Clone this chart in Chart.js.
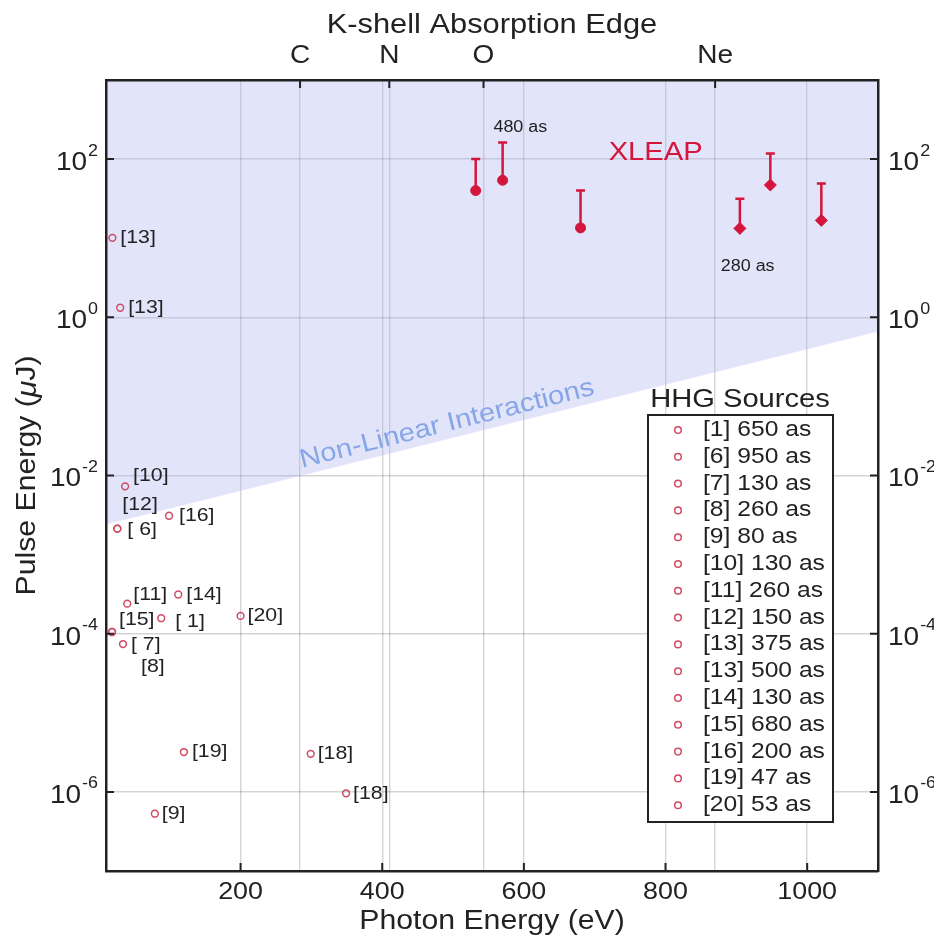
<!DOCTYPE html>
<html>
<head>
<meta charset="utf-8">
<script src="https://cdn.jsdelivr.net/npm/chart.js@4.4.1/dist/chart.umd.min.js"></script>
<style>
  html, body { margin: 0; padding: 0; background: #fff; }
  #wrap { width: 934px; height: 941px; }
</style>
</head>
<body>
<div id="wrap"><canvas id="chart" width="934" height="941"></canvas></div>
<script>
// axis ranges and ticks
const xRange = [10, 1100];
const yRange = [1e-7, 1e3];
const xTicks = [200, 400, 600, 800, 1000];
const yTickExp = [2, 0, -2, -4, -6];

// K-shell absorption edges (top axis)
const edgeNames = ['C', 'N', 'O', 'Ne'];
const edgeEnergy = [284, 410, 543, 870];

// HHG sources (open circles)
const hhgRefs = ['[13]', '[13]', '[10]', '[12]', '[ 6]', '[16]', '[11]', '[14]', '[15]', '[ 1]', '[20]', '[ 7]', '[8]', '[19]', '[18]', '[18]', '[9]'];
const hhgEnergy = [19, 30, 37, 26, 26, 99, 40, 112, 18.5, 88, 200, 34, 18.5, 120, 299, 349, 79];
const hhgPulse = [10.1, 1.32, 7.3e-3, 2.13e-3, 2.13e-3, 3.1e-3, 2.4e-4, 3.13e-4, 1.05e-4, 1.57e-4, 1.68e-4, 7.4e-5, 1.05e-4, 3.19e-6, 3.03e-6, 9.6e-7, 5.3e-7];

// legend entries
const hhgLegend = ['[1] 650 as', '[6] 950 as', '[7] 130 as', '[8] 260 as', '[9] 80 as', '[10] 130 as', '[11] 260 as', '[12] 150 as', '[13] 375 as', '[13] 500 as', '[14] 130 as', '[15] 680 as', '[16] 200 as', '[19] 47 as', '[20] 53 as'];

// XLEAP (filled markers with upper error bars)
const xleapEnergy = [532, 570, 680, 905, 948, 1020];
const xleapPulse = [40, 54, 13.5, 13.3, 47, 16.8];
const xleapPulseMax = [100, 162, 40, 31.6, 118, 49];

// non-linear interaction boundary
const nonlinEnergy = [10, 1100];
const nonlinPulse = [2.4e-3, 0.66];

// annotations
const noteText = ['XLEAP', '480 as', '280 as'];
const noteEnergy = [786, 557, 878];
const notePulse = [121, 248, 4.4];

// ---- layout / style ----
const FONT = '"Liberation Sans", Arial, Helvetica, sans-serif';
const SX = 1.12;
const INK = '#222';
const RED = '#d4163c';
const HHG_RED = '#cf4a62';
const gridColor = 'rgba(0,0,0,0.17)';
const xleapShape = ['circle', 'circle', 'circle', 'rectRot', 'rectRot', 'rectRot'];
const xleapSize = [5, 5, 5, 6, 6, 6];
const labelOffsets = [[8, 0], [8, 0], [8, -11], [5, -24], [10, 1], [10, 0], [6, -9], [8, 0], [7, -12], [14, 4], [7, 0], [8, 1], [29, 35], [8, 0], [7, 0], [7, 0], [7, 0]];
const noteStyle = [{ size: 26, color: RED, align: 'center' }, { size: 16, color: INK, align: 'left' }, { size: 16, color: INK, align: 'left' }];

function txt(ctx, s, x, y, size, align, color, italic) {
  ctx.save();
  ctx.font = (italic ? 'italic ' : '') + size + 'px ' + FONT;
  ctx.fillStyle = color || INK;
  ctx.textBaseline = 'middle';
  ctx.textAlign = 'left';
  const w = ctx.measureText(s).width * SX;
  const x0 = align === 'center' ? x - w / 2 : align === 'right' ? x - w : x;
  ctx.translate(x0, y);
  ctx.scale(SX, 1);
  ctx.fillText(s, 0, 0);
  ctx.restore();
  return w;
}

function measure(ctx, s, size, italic) {
  ctx.save();
  ctx.font = (italic ? 'italic ' : '') + size + 'px ' + FONT;
  const w = ctx.measureText(s).width * SX;
  ctx.restore();
  return w;
}

const decor = {
  id: 'decor',
  beforeDraw(chart) {
    const ctx = chart.ctx;
    ctx.save();
    ctx.fillStyle = '#fff';
    ctx.fillRect(0, 0, chart.width, chart.height);
    ctx.restore();
  },
  afterDatasetsDraw(chart) {
    const ctx = chart.ctx;
    const a = chart.chartArea;
    const sx = chart.scales.x, sy = chart.scales.y;

    // XLEAP error bars
    ctx.save();
    ctx.strokeStyle = RED;
    ctx.lineWidth = 2.5;
    xleapEnergy.forEach((e, i) => {
      const px = sx.getPixelForValue(e);
      const p0 = sy.getPixelForValue(xleapPulse[i]);
      const p1 = sy.getPixelForValue(xleapPulseMax[i]);
      ctx.beginPath();
      ctx.moveTo(px, p0);
      ctx.lineTo(px, p1);
      ctx.moveTo(px - 4.5, p1);
      ctx.lineTo(px + 4.5, p1);
      ctx.stroke();
    });
    ctx.restore();

    // inward tick marks
    ctx.save();
    ctx.strokeStyle = INK;
    ctx.lineWidth = 2;
    ctx.beginPath();
    xTicks.forEach(v => {
      const px = sx.getPixelForValue(v);
      ctx.moveTo(px, a.bottom); ctx.lineTo(px, a.bottom - 8);
    });
    edgeEnergy.forEach(v => {
      const px = sx.getPixelForValue(v);
      ctx.moveTo(px, a.top); ctx.lineTo(px, a.top + 8);
    });
    yTickExp.forEach(e => {
      const py = sy.getPixelForValue(Math.pow(10, e));
      ctx.moveTo(a.left, py); ctx.lineTo(a.left + 8, py);
      ctx.moveTo(a.right, py); ctx.lineTo(a.right - 8, py);
    });
    ctx.stroke();
    ctx.restore();

    // tick labels
    xTicks.forEach(v => txt(ctx, String(v), sx.getPixelForValue(v), 892, 24, 'center'));
    edgeNames.forEach((n, i) => txt(ctx, n, sx.getPixelForValue(edgeEnergy[i]), 56, 25, 'center'));
    yTickExp.forEach(e => {
      const py = sy.getPixelForValue(Math.pow(10, e));
      const ex = String(e);
      const wb = measure(ctx, '10', 25);
      const we = measure(ctx, ex, 16);
      // left
      const lx = 98 - we - 1 - wb;
      txt(ctx, '10', lx, py + 4, 25, 'left');
      txt(ctx, ex, lx + wb + 1, py - 8, 16, 'left');
      // right
      const rx = a.right + 10;
      txt(ctx, '10', rx, py + 4, 25, 'left');
      txt(ctx, ex, rx + wb + 1, py - 8, 16, 'left');
    });

    // axis titles
    const cx = (a.left + a.right) / 2;
    txt(ctx, 'K-shell Absorption Edge', cx, 25, 27.5, 'center');
    txt(ctx, 'Photon Energy (eV)', cx, 922, 27, 'center');
    ctx.save();
    ctx.translate(28, (a.top + a.bottom) / 2);
    ctx.rotate(-Math.PI / 2);
    const parts = [['Pulse Energy (', false], ['\u03bc', true], ['J)', false]];
    const tw = parts.reduce((s, p) => s + measure(ctx, p[0], 27, p[1]), 0);
    let off = -tw / 2;
    parts.forEach(p => { off += txt(ctx, p[0], off, 0, 27, 'left', INK, p[1]); });
    ctx.restore();

    // non-linear label along the boundary
    const bx0 = sx.getPixelForValue(nonlinEnergy[0]), by0 = sy.getPixelForValue(nonlinPulse[0]);
    const bx1 = sx.getPixelForValue(nonlinEnergy[1]), by1 = sy.getPixelForValue(nonlinPulse[1]);
    ctx.save();
    ctx.translate(447, 424);
    ctx.rotate(Math.atan2(by1 - by0, bx1 - bx0));
    txt(ctx, 'Non-Linear Interactions', 0, 0, 26, 'center', '#86a6e8');
    ctx.restore();

    // HHG point labels
    hhgRefs.forEach((r, i) => {
      const px = sx.getPixelForValue(hhgEnergy[i]);
      const py = sy.getPixelForValue(hhgPulse[i]);
      txt(ctx, r, px + labelOffsets[i][0], py + labelOffsets[i][1], 19, 'left');
    });

    // notes
    noteText.forEach((n, i) => {
      const st = noteStyle[i];
      txt(ctx, n, sx.getPixelForValue(noteEnergy[i]), sy.getPixelForValue(notePulse[i]), st.size, st.align, st.color);
    });

    // legend box
    const L = { left: 648, top: 415, right: 833, bottom: 822, row0: 430, step: 26.8 };
    ctx.save();
    ctx.fillStyle = '#fff';
    ctx.fillRect(L.left, L.top, L.right - L.left, L.bottom - L.top);
    ctx.strokeStyle = INK;
    ctx.lineWidth = 2;
    ctx.strokeRect(L.left, L.top, L.right - L.left, L.bottom - L.top);
    ctx.strokeStyle = HHG_RED;
    ctx.lineWidth = 1.5;
    hhgLegend.forEach((s, i) => {
      ctx.beginPath();
      ctx.arc(678, L.row0 + i * L.step, 3.3, 0, Math.PI * 2);
      ctx.stroke();
    });
    ctx.restore();
    txt(ctx, 'HHG Sources', (L.left + L.right) / 2 - 0.5, 400, 26, 'center');
    hhgLegend.forEach((s, i) => txt(ctx, s, 703, L.row0 + i * L.step, 22, 'left'));
  }
};

const ctx = document.getElementById('chart').getContext('2d');

const chart = new Chart(ctx, {
  type: 'scatter',
  data: {
    datasets: [
      {
        label: 'XLEAP',
        data: xleapEnergy.map((e, i) => ({ x: e, y: xleapPulse[i] })),
        pointStyle: xleapShape,
        pointRadius: xleapSize,
        backgroundColor: RED,
        borderColor: RED,
        borderWidth: 1,
        order: 1
      },
      {
        label: 'HHG Sources',
        data: hhgEnergy.map((e, i) => ({ x: e, y: hhgPulse[i] })),
        pointStyle: 'circle',
        pointRadius: 3.4,
        borderWidth: 1.5,
        borderColor: HHG_RED,
        backgroundColor: 'rgba(0,0,0,0)',
        order: 2
      },
      {
        type: 'line',
        label: 'Non-Linear Interactions',
        data: nonlinEnergy.map((e, i) => ({ x: e, y: nonlinPulse[i] })),
        borderWidth: 0,
        borderColor: 'rgba(0,0,0,0)',
        pointRadius: 0,
        fill: 'end',
        backgroundColor: 'rgba(175,182,240,0.36)',
        order: 10
      }
    ]
  },
  options: {
    responsive: false,
    animation: false,
    devicePixelRatio: 1,
    layout: { padding: 0 },
    plugins: {
      legend: { display: false },
      tooltip: { enabled: false }
    },
    scales: {
      x: {
        type: 'linear', position: 'bottom', min: xRange[0], max: xRange[1],
        afterBuildTicks: s => { s.ticks = xTicks.map(v => ({ value: v })); },
        afterFit: s => { s.height = 70; },
        ticks: { display: false },
        grid: { color: gridColor, lineWidth: 1.4, drawTicks: false },
        border: { display: true, color: INK, width: 2.5, z: 1 }
      },
      xTop: {
        type: 'linear', position: 'top', min: xRange[0], max: xRange[1],
        afterBuildTicks: s => { s.ticks = edgeEnergy.map(v => ({ value: v })); },
        afterFit: s => { s.height = 80; },
        ticks: { display: false },
        grid: { color: gridColor, lineWidth: 1.4, drawTicks: false },
        border: { display: true, color: INK, width: 2.5, z: 1 }
      },
      y: {
        type: 'logarithmic', position: 'left', min: yRange[0], max: yRange[1],
        afterBuildTicks: s => { s.ticks = yTickExp.map(e => ({ value: Math.pow(10, e) })); },
        afterFit: s => { s.width = 106; },
        ticks: { display: false },
        grid: { color: gridColor, lineWidth: 1.4, drawTicks: false },
        border: { display: true, color: INK, width: 2.5, z: 1 }
      },
      yR: {
        type: 'logarithmic', position: 'right', min: yRange[0], max: yRange[1],
        afterBuildTicks: s => { s.ticks = yTickExp.map(e => ({ value: Math.pow(10, e) })); },
        afterFit: s => { s.width = 56; },
        ticks: { display: false },
        grid: { display: false, drawTicks: false },
        border: { display: true, color: INK, width: 2.5, z: 1 }
      }
    }
  },
  plugins: [decor]
});
</script>
</body>
</html>
